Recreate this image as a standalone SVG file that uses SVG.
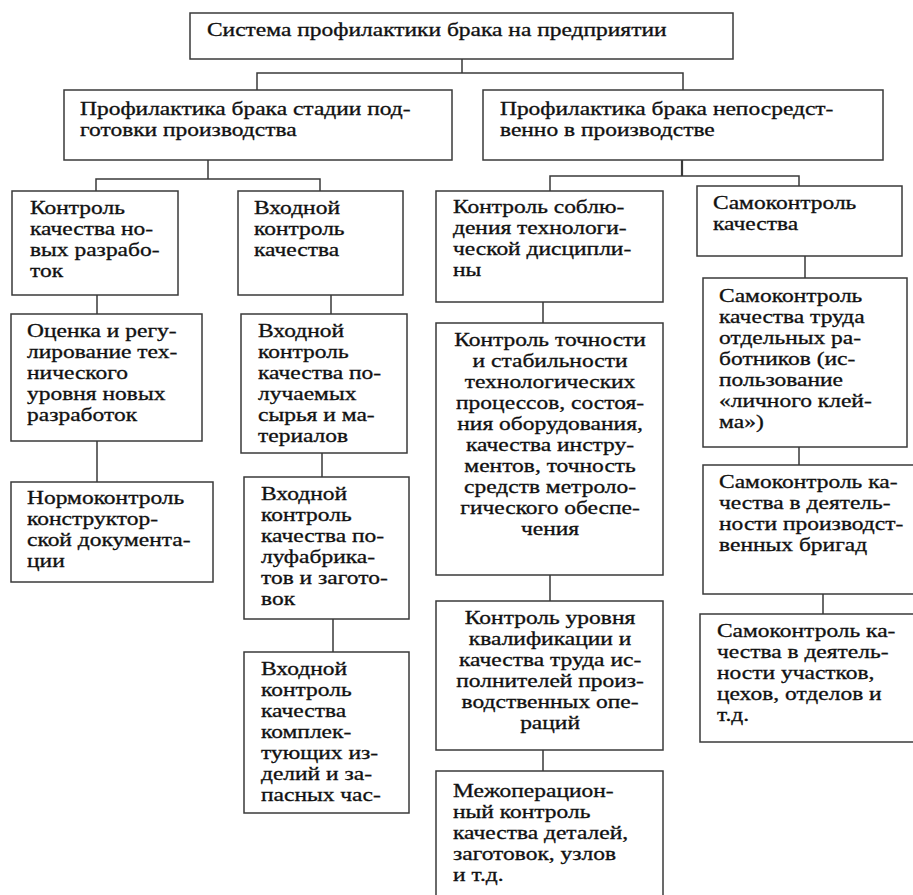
<svg xmlns="http://www.w3.org/2000/svg" width="913" height="895" viewBox="0 0 913 895">
<style>
.b{fill:#fff;stroke:#3a3a3a;stroke-width:1.5}
.t{font-family:"Liberation Serif","Times New Roman",serif;font-size:18px;fill:#111;stroke:#111;stroke-width:0.3}
.c{text-anchor:middle}
.k{fill:none;stroke:#3a3a3a;stroke-width:1.5}
</style>
<rect width="913" height="895" fill="#fff"/>
<g id="connectors">
<path class="k" d="M462,59V73M257,90V73H683V90"/>
<path class="k" d="M208,160V179M96,191V179H320V191"/>
<path class="k" d="M682,160V176" style="stroke-width:2.2"/>
<path class="k" d="M550,191V176H799V186"/>
<path class="k" d="M97,295V314M331,295V314M543,302V323M805,256V278"/>
<path class="k" d="M97,441V482M322,453V477M333,619V652"/>
<path class="k" d="M550,575V601M543,750V771M799,447V465M823,594V614"/>
</g>
<g id="root">
<rect class="b" x="190" y="13" width="543" height="46"/>
<text class="t" transform="scale(1.305 1)"><tspan x="158.6" y="36">Система профилактики брака на предприятии</tspan></text>
</g>
<g id="prep">
<rect class="b" x="64" y="90" width="388" height="70"/>
<text class="t" transform="scale(1.305 1)"><tspan x="61.3" y="115">Профилактика брака стадии под-</tspan><tspan x="61.3" y="136">готовки производства</tspan></text>
</g>
<g id="prod">
<rect class="b" x="483" y="90" width="400" height="70"/>
<text class="t" transform="scale(1.305 1)"><tspan x="383.1" y="115">Профилактика брака непосредст-</tspan><tspan x="383.1" y="136">венно в производстве</tspan></text>
</g>
<g id="new-dev">
<rect class="b" x="12" y="191" width="166" height="104"/>
<text class="t" transform="scale(1.305 1)"><tspan x="23" y="214">Контроль</tspan><tspan x="23" y="235">качества но-</tspan><tspan x="23" y="256">вых разрабо-</tspan><tspan x="23" y="277">ток</tspan></text>
</g>
<g id="incoming">
<rect class="b" x="238" y="191" width="165" height="104"/>
<text class="t" transform="scale(1.305 1)"><tspan x="194.6" y="214">Входной</tspan><tspan x="194.6" y="235">контроль</tspan><tspan x="194.6" y="256">качества</tspan></text>
</g>
<g id="discipline">
<rect class="b" x="436" y="191" width="227" height="111"/>
<text class="t" transform="scale(1.305 1)"><tspan x="347.1" y="213">Контроль соблю-</tspan><tspan x="347.1" y="234">дения технологи-</tspan><tspan x="347.1" y="255">ческой дисципли-</tspan><tspan x="347.1" y="276">ны</tspan></text>
</g>
<g id="self">
<rect class="b" x="697" y="186" width="205" height="70"/>
<text class="t" transform="scale(1.305 1)"><tspan x="546.4" y="209">Самоконтроль</tspan><tspan x="546.4" y="230">качества</tspan></text>
</g>
<g id="assess">
<rect class="b" x="11" y="314" width="191" height="127"/>
<text class="t" transform="scale(1.305 1)"><tspan x="20.7" y="337">Оценка и регу-</tspan><tspan x="20.7" y="358">лирование тех-</tspan><tspan x="20.7" y="379">нического</tspan><tspan x="20.7" y="400">уровня новых</tspan><tspan x="20.7" y="421">разработок</tspan></text>
</g>
<g id="raw">
<rect class="b" x="241" y="314" width="166" height="139"/>
<text class="t" transform="scale(1.305 1)"><tspan x="197.7" y="337">Входной</tspan><tspan x="197.7" y="358">контроль</tspan><tspan x="197.7" y="379">качества по-</tspan><tspan x="197.7" y="400">лучаемых</tspan><tspan x="197.7" y="421">сырья и ма-</tspan><tspan x="197.7" y="442">териалов</tspan></text>
</g>
<g id="precision">
<rect class="b" x="436" y="323" width="227" height="252"/>
<text class="t c" transform="scale(1.305 1)"><tspan x="421.5" y="346">Контроль точности</tspan><tspan x="421.5" y="367">и стабильности</tspan><tspan x="421.5" y="388">технологических</tspan><tspan x="421.5" y="409">процессов, состоя-</tspan><tspan x="421.5" y="430">ния оборудования,</tspan><tspan x="421.5" y="451">качества инстру-</tspan><tspan x="421.5" y="472">ментов, точность</tspan><tspan x="421.5" y="493">средств метроло-</tspan><tspan x="421.5" y="514">гического обеспе-</tspan><tspan x="421.5" y="535">чения</tspan></text>
</g>
<g id="worker">
<rect class="b" x="703" y="278" width="204" height="169"/>
<text class="t" transform="scale(1.305 1)"><tspan x="551" y="302">Самоконтроль</tspan><tspan x="551" y="323">качества труда</tspan><tspan x="551" y="344">отдельных ра-</tspan><tspan x="551" y="365">ботников (ис-</tspan><tspan x="551" y="386">пользование</tspan><tspan x="551" y="407">«личного клей-</tspan><tspan x="551" y="428">ма»)</tspan></text>
</g>
<g id="normcontrol">
<rect class="b" x="11" y="482" width="202" height="100"/>
<text class="t" transform="scale(1.305 1)"><tspan x="20.7" y="504">Нормоконтроль</tspan><tspan x="20.7" y="525">конструктор-</tspan><tspan x="20.7" y="546">ской документа-</tspan><tspan x="20.7" y="567">ции</tspan></text>
</g>
<g id="semi">
<rect class="b" x="244" y="477" width="165" height="142"/>
<text class="t" transform="scale(1.305 1)"><tspan x="200" y="500">Входной</tspan><tspan x="200" y="521">контроль</tspan><tspan x="200" y="542">качества по-</tspan><tspan x="200" y="563">луфабрика-</tspan><tspan x="200" y="584">тов и загото-</tspan><tspan x="200" y="605">вок</tspan></text>
</g>
<g id="components">
<rect class="b" x="244" y="652" width="165" height="161"/>
<text class="t" transform="scale(1.305 1)"><tspan x="200" y="675">Входной</tspan><tspan x="200" y="696">контроль</tspan><tspan x="200" y="717">качества</tspan><tspan x="200" y="738">комплек-</tspan><tspan x="200" y="759">тующих из-</tspan><tspan x="200" y="780">делий и за-</tspan><tspan x="200" y="801">пасных час-</tspan></text>
</g>
<g id="qualification">
<rect class="b" x="436" y="601" width="227" height="149"/>
<text class="t c" transform="scale(1.305 1)"><tspan x="421.5" y="624">Контроль уровня</tspan><tspan x="421.5" y="645">квалификации и</tspan><tspan x="421.5" y="666">качества труда ис-</tspan><tspan x="421.5" y="687">полнителей произ-</tspan><tspan x="421.5" y="708">водственных опе-</tspan><tspan x="421.5" y="729">раций</tspan></text>
</g>
<g id="interop">
<rect class="b" x="436" y="771" width="227" height="140"/>
<text class="t" transform="scale(1.305 1)"><tspan x="347.1" y="797">Межоперацион-</tspan><tspan x="347.1" y="818">ный контроль</tspan><tspan x="347.1" y="839">качества деталей,</tspan><tspan x="347.1" y="860">заготовок, узлов</tspan><tspan x="347.1" y="881">и т.д.</tspan></text>
</g>
<g id="brigades">
<rect class="b" x="703" y="465" width="220" height="129"/>
<text class="t" transform="scale(1.305 1)"><tspan x="551" y="488">Самоконтроль ка-</tspan><tspan x="551" y="509">чества в деятель-</tspan><tspan x="551" y="530">ности производст-</tspan><tspan x="551" y="551">венных бригад</tspan></text>
</g>
<g id="units">
<rect class="b" x="700" y="614" width="223" height="128"/>
<text class="t" transform="scale(1.305 1)"><tspan x="549.4" y="637">Самоконтроль ка-</tspan><tspan x="549.4" y="658">чества в деятель-</tspan><tspan x="549.4" y="679">ности участков,</tspan><tspan x="549.4" y="700">цехов, отделов и</tspan><tspan x="549.4" y="721">т.д.</tspan></text>
</g>
</svg>
